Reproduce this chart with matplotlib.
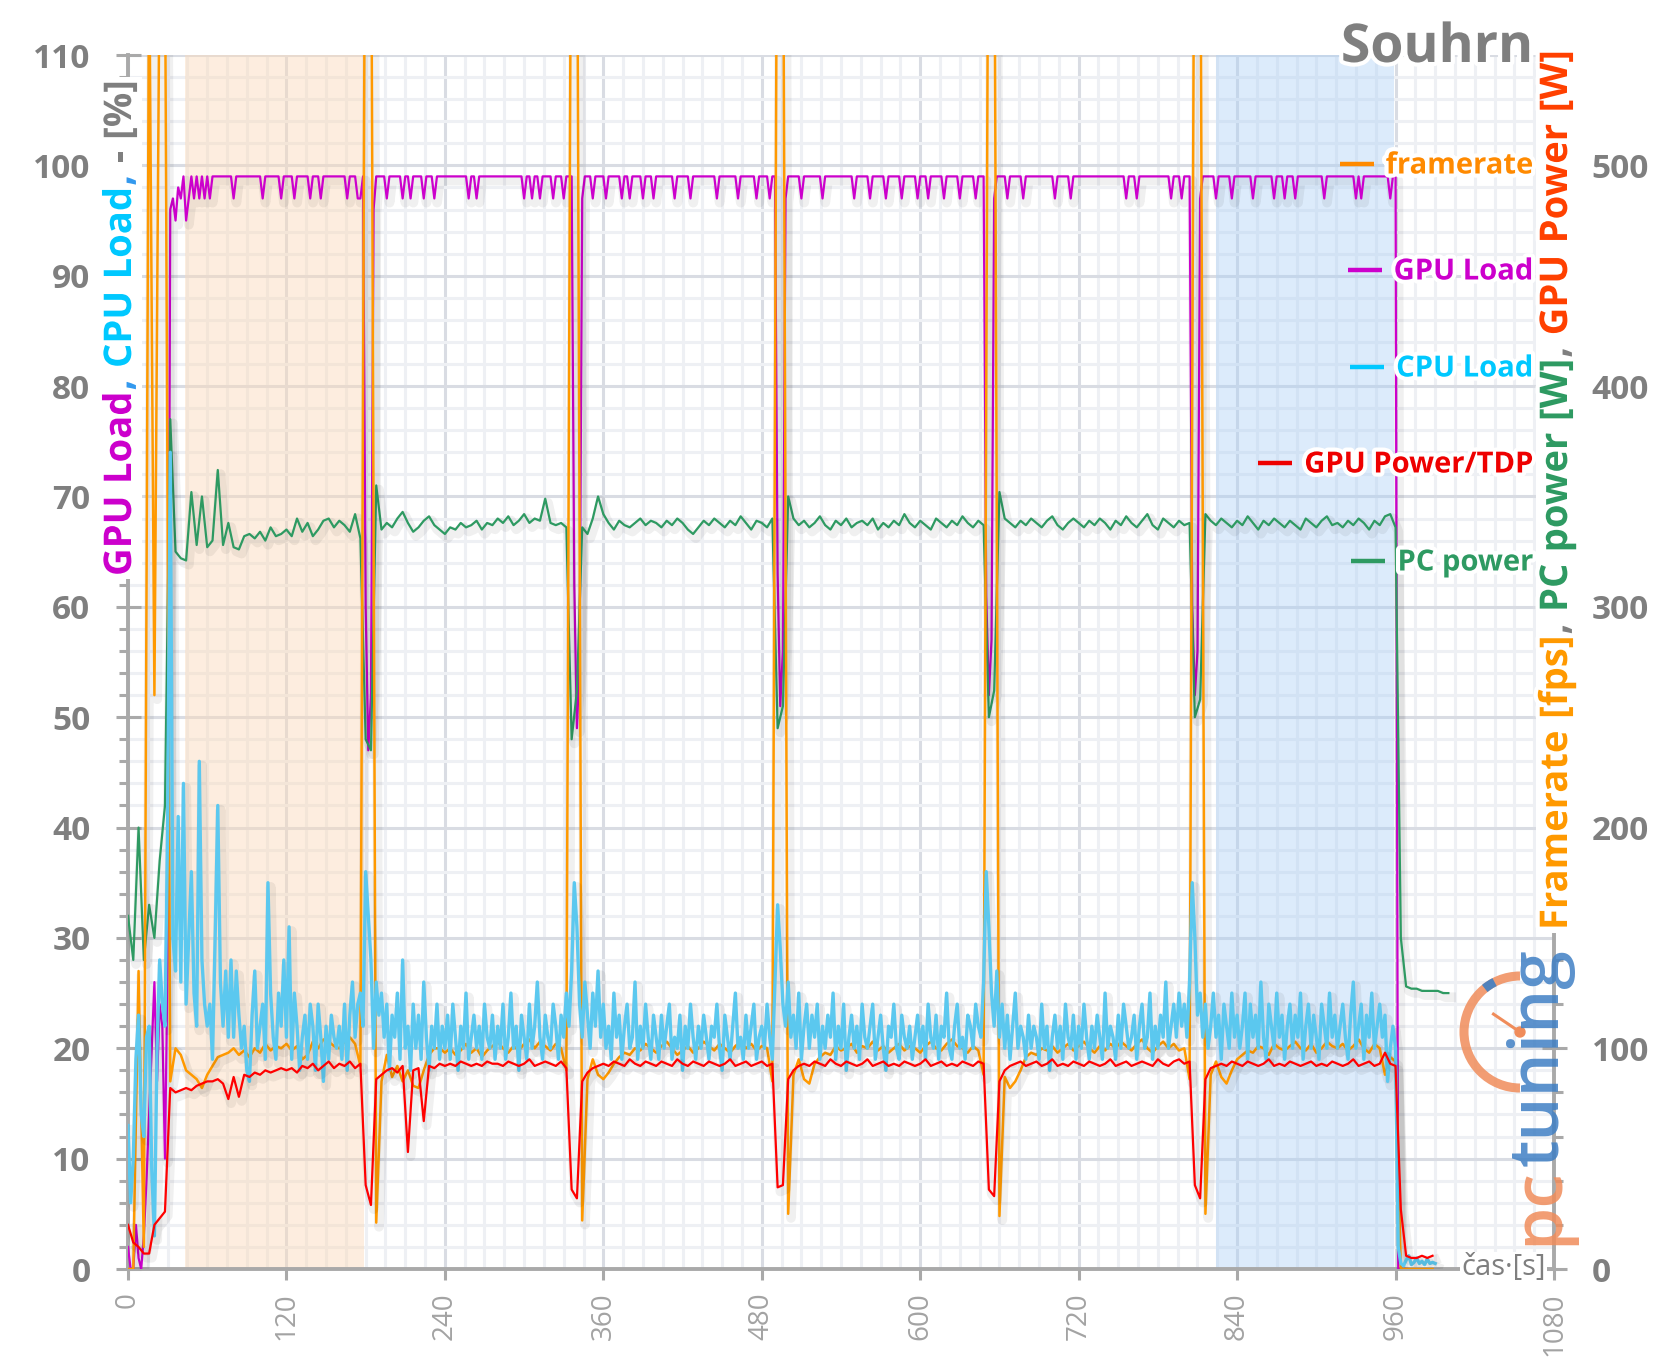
import numpy as np
import matplotlib
matplotlib.use("Agg")
import matplotlib.pyplot as plt
import matplotlib.patheffects as pe
from matplotlib.lines import Line2D
from matplotlib.patches import Arc, Circle, Rectangle
from matplotlib.ticker import MultipleLocator
from matplotlib.transforms import IdentityTransform, Bbox

nan = np.nan

fast_step = 2
slow_step = 4

gpu_load = [  # %, one row = 40 s
    2, 0, 0, 4, 1, 0, 3, 8, 14, 20, 26, 17, 24, 22, 10, 28, 96, 97, 95, 98,
    97, 99, 95, 97, 99, 97, 99, 97, 99, 97, 99, 97, 99, 99, 99, 99, 99, 99, 99, 99,
    97, 99, 99, 99, 99, 99, 99, 99, 99, 99, 99, 97, 99, 99, 99, 99, 99, 99, 97, 99,
    99, 99, 99, 97, 99, 99, 99, 99, 99, 97, 99, 99, 99, 97, 99, 99, 99, 99, 99, 99,
    99, 99, 99, 97, 99, 99, 99, 97, 97, 99, 60, 47, 52, 96, 99, 99, 99, 99, 97, 99,
    99, 99, 99, 99, 97, 99, 99, 97, 99, 99, 99, 99, 97, 99, 99, 99, 97, 99, 99, 99,
    99, 99, 99, 99, 99, 99, 99, 99, 99, 97, 99, 99, 97, 99, 99, 99, 99, 99, 99, 99,
    99, 99, 99, 99, 99, 99, 99, 99, 99, 99, 97, 99, 99, 97, 99, 99, 97, 99, 99, 99,
    99, 97, 99, 99, 99, 97, 99, 99, 99, 62, 49, 55, 97, 99, 99, 99, 97, 99, 99, 99,
    99, 97, 99, 99, 99, 99, 99, 97, 99, 99, 97, 99, 99, 99, 99, 97, 99, 99, 99, 97,
    99, 99, 99, 99, 99, 99, 99, 97, 99, 99, 99, 99, 99, 97, 99, 99, 99, 99, 99, 99,
    99, 99, 99, 97, 99, 99, 99, 99, 99, 99, 99, 97, 99, 99, 99, 99, 99, 99, 97, 99,
    99, 99, 99, 97, 99, 99, 63, 51, 56, 97, 99, 99, 99, 99, 99, 97, 99, 99, 99, 99,
    99, 99, 99, 97, 99, 99, 99, 99, 99, 99, 99, 99, 99, 99, 99, 97, 99, 99, 99, 99,
    99, 97, 99, 99, 99, 99, 99, 97, 99, 99, 99, 99, 99, 97, 99, 99, 99, 99, 99, 97,
    99, 99, 99, 97, 99, 99, 99, 99, 99, 97, 99, 99, 99, 99, 99, 97, 99, 99, 99, 99,
    99, 97, 99, 99, 99, 61, 52, 57, 97, 99, 99, 99, 99, 97, 99, 99, 99, 99, 99, 97,
    99, 99, 99, 99, 99, 99, 99, 99, 99, 99, 99, 97, 99, 99, 99, 99, 99, 97, 99, 99,
    99, 99, 99, 99, 99, 99, 99, 99, 99, 99, 99, 99, 99, 99, 99, 99, 99, 99, 97, 99,
    99, 99, 97, 99, 99, 99, 99, 99, 99, 99, 99, 99, 99, 99, 99, 97, 99, 99, 99, 97,
    99, 99, 99, 60, 52, 56, 97, 99, 99, 99, 99, 99, 97, 99, 99, 99, 99, 99, 97, 99,
    99, 99, 99, 99, 99, 99, 97, 99, 99, 99, 99, 99, 99, 99, 97, 99, 99, 99, 97, 99,
    99, 99, 97, 99, 99, 99, 99, 99, 99, 99, 99, 99, 99, 97, 99, 99, 99, 99, 99, 99,
    99, 99, 99, 99, 99, 97, 99, 97, 99, 99, 99, 99, 99, 99, 99, 99, 99, 99, 97, 99,
    99, 0, 0, 0, 0, nan, nan, nan, nan, nan, nan, nan, nan, nan, nan, nan, nan, nan, nan, nan,
    nan,
]

cpu_load = [  # %, one row = 40 s
    13, 6, 10, 19, 23, 14, 12, 21, 22, 9, 3, 20, 28, 24, 22, 40, 74, 30, 27, 41,
    26, 44, 24, 30, 36, 25, 22, 46, 28, 24, 22, 24, 19, 30, 42, 26, 22, 27, 21, 28,
    21, 27, 23, 20, 22, 18, 17, 23, 27, 20, 22, 24, 19, 35, 25, 21, 19, 25, 22, 28,
    21, 31, 19, 25, 22, 18, 21, 23, 19, 24, 22, 18, 24, 21, 17, 22, 19, 23, 21, 20,
    22, 19, 24, 18, 23, 26, 21, 24, 25, 22, 36, 32, 28, 20, 26, 23, 25, 21, 24, 18,
    23, 21, 25, 19, 28, 20, 22, 18, 24, 20, 23, 19, 26, 21, 18, 22, 20, 24, 19, 22,
    20, 23, 19, 24, 21, 18, 22, 20, 25, 19, 21, 23, 20, 22, 19, 24, 21, 20, 23, 19,
    22, 20, 24, 19, 21, 25, 20, 22, 18, 23, 21, 19, 24, 20, 22, 26, 21, 19, 23, 21,
    20, 24, 22, 19, 23, 21, 25, 22, 27, 35, 31, 24, 21, 26, 23, 20, 25, 22, 27, 21,
    24, 20, 22, 19, 25, 21, 23, 19, 22, 24, 20, 21, 26, 19, 22, 20, 24, 21, 19, 23,
    21, 19, 23, 20, 22, 24, 19, 21, 20, 23, 18, 22, 20, 24, 21, 19, 22, 20, 23, 21,
    19, 22, 21, 24, 20, 18, 23, 21, 19, 22, 25, 20, 21, 19, 23, 20, 22, 24, 19, 21,
    22, 20, 24, 21, 19, 26, 33, 29, 24, 22, 26, 21, 23, 20, 25, 19, 22, 24, 20, 23,
    21, 24, 19, 22, 20, 23, 21, 25, 19, 22, 20, 24, 18, 21, 23, 20, 22, 19, 24, 21,
    20, 22, 24, 19, 21, 23, 20, 18, 22, 21, 24, 20, 19, 23, 21, 20, 22, 19, 21, 23,
    20, 22, 19, 24, 21, 20, 23, 19, 22, 21, 25, 20, 19, 22, 24, 20, 21, 19, 23, 22,
    20, 24, 22, 21, 26, 36, 31, 25, 22, 27, 21, 24, 20, 23, 19, 22, 25, 20, 22, 21,
    19, 23, 20, 22, 21, 19, 24, 20, 22, 18, 21, 23, 20, 22, 19, 24, 21, 20, 23, 19,
    22, 20, 24, 21, 19, 22, 20, 23, 21, 19, 25, 20, 22, 21, 19, 23, 20, 24, 22, 20,
    21, 23, 19, 22, 24, 20, 21, 25, 19, 22, 20, 23, 21, 26, 20, 22, 24, 21, 25, 22,
    24, 21, 26, 35, 30, 23, 25, 21, 24, 20, 22, 25, 21, 23, 19, 24, 22, 20, 25, 21,
    23, 20, 22, 25, 19, 24, 21, 23, 20, 26, 21, 19, 24, 22, 20, 25, 21, 23, 19, 22,
    24, 20, 23, 21, 25, 19, 22, 24, 20, 23, 21, 19, 24, 22, 20, 25, 21, 23, 20, 22,
    24, 21, 19, 23, 26, 20, 22, 24, 19, 23, 21, 25, 20, 22, 24, 21, 23, 17, 20, 22,
    20, 2, 0.5, 0.3, 0.8, 1.2, 0.4, 0.6, 1.0, 0.5, 0.7, 0.4, 0.9, 0.5, 0.6, 0.5, nan, nan, nan, nan,
    nan,
]

framerate = [  # fps, one row = 40 s
    0, 0, 135, 10, 600, 260, 600, 600, 85, 100,
    97, 90, 88, 86, 82, 88, 92, 96, 97, 98,
    100, 97, 99, 96, 100, 98, 102, 99, 101, 100,
    102, 99, 101, 95, 97, 103, 100, 104, 103, 101,
    100, 103, 105, 102, 92, 700, 650, 21, 85, 97,
    87, 92, 85, 90, 83, 82, 90, 97, 100, 100,
    98, 100, 97, 99, 102, 98, 100, 96, 99, 101,
    103, 100, 98, 101, 99, 102, 104, 100, 103, 101,
    99, 102, 100, 90, 700, 650, 22, 86, 95, 88,
    86, 89, 93, 96, 98, 97, 100, 99, 102, 100,
    98, 101, 103, 100, 97, 99, 101, 98, 100, 103,
    101, 99, 102, 100, 98, 101, 103, 100, 102, 99,
    101, 100, 85, 700, 650, 25, 88, 95, 86, 84,
    93, 96, 98, 97, 101, 99, 100, 102, 98, 101,
    100, 103, 99, 101, 98, 100, 102, 99, 101, 100,
    98, 101, 103, 100, 99, 102, 104, 101, 100, 98,
    101, 99, 88, 700, 650, 24, 87, 82, 85, 90,
    96, 98, 97, 100, 99, 101, 98, 100, 102, 99,
    101, 103, 100, 98, 101, 99, 102, 100, 103, 101,
    99, 102, 104, 100, 98, 101, 103, 100, 102, 99,
    100, 86, 700, 650, 25, 88, 94, 87, 84, 90,
    95, 97, 99, 98, 101, 100, 97, 102, 100, 99,
    101, 103, 100, 99, 102, 98, 100, 103, 101, 100,
    102, 99, 101, 104, 100, 98, 102, 100, 88, 96,
    94, 0, 0, 0, 0, 0, 0, 0, nan, nan,
    nan,
]

gpu_power = [  # W, one row = 40 s
    20, 12, 10, 7, 7, 20, 23, 26, 82, 80,
    81, 82, 81, 83, 84, 85, 85, 86, 84, 77,
    87, 78, 88, 87, 89, 88, 90, 89, 90, 91,
    90, 91, 89, 92, 91, 93, 90, 92, 94, 91,
    93, 92, 94, 91, 93, 38, 29, 86, 88, 90,
    91, 89, 92, 53, 90, 91, 67, 92, 91, 93,
    92, 93, 92, 94, 93, 92, 93, 92, 94, 93,
    93, 92, 94, 93, 92, 93, 95, 92, 93, 94,
    93, 92, 94, 91, 36, 32, 85, 89, 91, 92,
    93, 92, 94, 93, 92, 95, 93, 92, 94, 93,
    92, 94, 93, 92, 95, 93, 92, 94, 93, 92,
    94, 93, 92, 93, 95, 92, 93, 94, 92, 93,
    94, 92, 93, 37, 38, 86, 90, 92, 93, 92,
    94, 93, 92, 95, 93, 92, 94, 93, 92, 93,
    95, 92, 93, 94, 92, 93, 92, 94, 93, 92,
    93, 95, 92, 93, 94, 92, 93, 92, 94, 93,
    92, 94, 93, 36, 33, 85, 90, 92, 93, 94,
    92, 93, 94, 92, 93, 95, 92, 93, 92, 94,
    93, 92, 94, 93, 92, 93, 95, 92, 93, 94,
    92, 93, 94, 93, 92, 95, 93, 92, 94, 95,
    93, 94, 38, 32, 86, 91, 92, 93, 92, 94,
    93, 92, 94, 93, 92, 93, 95, 92, 93, 92,
    94, 93, 92, 93, 94, 92, 93, 92, 94, 93,
    92, 93, 95, 92, 93, 94, 92, 93, 98, 93,
    92, 27, 6, 5, 5, 6, 5, 6, nan, nan,
    nan,
]

pc_power = [  # W, one row = 40 s
    160, 140, 200, 140, 165, 150, 185, 210, 385, 325,
    322, 321, 352, 328, 350, 327, 330, 362, 328, 338,
    327, 326, 332, 333, 331, 334, 330, 336, 332, 333,
    335, 332, 340, 334, 338, 332, 335, 339, 340, 336,
    339, 337, 334, 342, 331, 240, 235, 355, 335, 338,
    336, 340, 343, 338, 334, 336, 339, 341, 337, 335,
    333, 336, 335, 338, 336, 337, 339, 335, 338, 337,
    340, 338, 341, 337, 339, 342, 338, 340, 339, 349,
    338, 337, 338, 336, 240, 262, 336, 333, 340, 350,
    342, 338, 335, 339, 337, 336, 338, 340, 337, 339,
    338, 336, 339, 337, 340, 338, 335, 333, 336, 339,
    337, 340, 338, 336, 339, 337, 341, 338, 335, 339,
    338, 336, 340, 245, 255, 350, 340, 337, 339, 336,
    338, 341, 337, 335, 339, 337, 340, 336, 338, 339,
    337, 340, 335, 338, 336, 339, 337, 342, 338, 336,
    339, 337, 335, 340, 338, 336, 339, 337, 341, 338,
    336, 339, 337, 250, 262, 352, 340, 338, 336, 339,
    337, 340, 338, 336, 339, 341, 337, 335, 338, 340,
    338, 336, 339, 337, 340, 338, 335, 339, 337, 341,
    338, 336, 339, 342, 337, 335, 340, 338, 336, 339,
    337, 338, 250, 258, 342, 339, 337, 340, 338, 336,
    339, 337, 341, 338, 335, 339, 337, 340, 338, 336,
    339, 337, 335, 340, 338, 336, 339, 341, 337, 338,
    336, 339, 337, 340, 338, 335, 339, 337, 341, 342,
    336, 150, 128, 127, 127, 126, 126, 126, 126, 125,
    125,
]

for s in (gpu_load, cpu_load):
    assert len(s) == 501, len(s)
for s in (framerate, gpu_power, pc_power):
    assert len(s) == 251, len(s)

t_fast = np.arange(len(gpu_load)) * fast_step
t_slow = np.arange(len(pc_power)) * slow_step

spans = [(43, 179, "#FBD9B8", 0.45), (824, 959, "#A9CDF5", 0.40)]

x_ticks = [0, 120, 240, 360, 480, 600, 720, 840, 960, 1080]
left_ticks = [0, 10, 20, 30, 40, 50, 60, 70, 80, 90, 100, 110]
right_ticks = [0, 100, 200, 300, 400, 500]

legend_names = ["framerate", "GPU Load", "CPU Load", "GPU Power/TDP", "PC power"]
legend_colors = ["#FF8A00", "#CC00CC", "#00C8FF", "#EE0000", "#2E9A62"]
legend_y = [166, 272, 369, 465, 563]

plt.rcParams["font.family"] = ["Open Sans", "DejaVu Sans"]

W, H = 1658, 1361
fig = plt.figure(figsize=(W / 100, H / 100), dpi=100)
gray = "#7F7F7F"
axis_gray = "#A9A9A9"
glow = [pe.withStroke(linewidth=6, foreground="white")]

ax = fig.add_axes([128 / W, 1 - 1269 / H, (1554 - 128) / W, (1269 - 55) / H])
ax2 = ax.twinx()
ax.set_xlim(0, 1080)
ax.set_ylim(0, 110)
ax2.set_ylim(0, 550)

# grid
ax.set_axisbelow(True)
ax.xaxis.set_minor_locator(MultipleLocator(15))
ax.yaxis.set_minor_locator(MultipleLocator(2))
ax.grid(which="major", color="#D9DCE3", lw=2.2)
ax.grid(which="minor", color="#EEF0F4", lw=2.2)

for x0, x1, c, a in spans:
    ax.axvspan(x0, x1, color=c, alpha=a, lw=0, zorder=1)

shadow = [pe.SimpleLineShadow(offset=(2, -3), shadow_color="black", alpha=0.06, linewidth=7), pe.Normal()]

ax.plot(t_fast, gpu_load, color="#CC00CC", lw=1.6, zorder=3, path_effects=shadow)
ax.plot(t_slow, pc_power, color="#2E9A62", lw=1.6, zorder=4, path_effects=shadow,
        transform=ax2.transData)
ax.plot(t_slow, framerate, color="#FF9900", lw=1.8, zorder=5, path_effects=shadow,
        transform=ax2.transData)
ax.plot(t_fast, cpu_load, color="#5BC8EF", lw=2.4, zorder=6, path_effects=shadow)
ax.plot(t_slow, gpu_power, color="#FF0000", lw=1.6, zorder=7, path_effects=shadow,
        transform=ax2.transData)
ax.set_xlim(0, 1080)
ax.set_ylim(0, 110)

# axes, ticks
for a in (ax, ax2):
    a.spines["top"].set_visible(False)
ax.spines["right"].set_visible(False)
ax2.spines["left"].set_visible(False)
ax2.spines["bottom"].set_visible(False)
for sp in (ax.spines["left"], ax.spines["bottom"], ax2.spines["right"]):
    sp.set_color(axis_gray)
    sp.set_linewidth(2.8)

ax.set_xticks(x_ticks)
ax.set_xticklabels([str(v) for v in x_ticks], rotation=90, fontsize=20, color="#A3A3A3")
ax.tick_params(axis="x", which="major", direction="out", length=8, width=2.2,
               color=axis_gray, pad=9)
ax.tick_params(axis="x", which="minor", length=0)

ax.set_yticks(left_ticks)
ax.set_yticklabels([str(v) for v in left_ticks], fontsize=24, fontweight="bold", color=gray)
ax.tick_params(axis="y", which="major", direction="inout", length=18, width=2.2,
               color=axis_gray, pad=18)
ax.tick_params(axis="y", which="minor", direction="out", length=6.5, width=2.2, color=axis_gray)

ax2.set_yticks(right_ticks)
ax2.set_yticklabels([str(v) for v in right_ticks], fontsize=24, fontweight="bold", color=gray)
ax2.yaxis.set_minor_locator(MultipleLocator(20))
ax2.tick_params(axis="y", which="major", direction="inout", length=18, width=2.2,
                color=axis_gray, pad=18)
ax2.tick_params(axis="y", which="minor", direction="out", length=6.5, width=2.2, color=axis_gray)

renderer = fig.canvas.get_renderer()


def stack_text(x_px, y_px, parts, size, backdrop=False, **kw):
    # vertical text built from coloured pieces, bottom to top; None = word gap
    cur = H - y_px
    space = 0.27 * size * 100 / 72
    boxes = []
    for s, c in parts:
        if s is None:
            cur += space
            continue
        tx = fig.text(x_px / W, cur / H, s, rotation=90, ha="center", va="bottom",
                      fontsize=size, color=c, **kw)
        bb = tx.get_window_extent(renderer)
        boxes.append(bb)
        cur = bb.y1 + 1
    if backdrop:
        u = Bbox.union(boxes)
        fig.add_artist(Rectangle((u.x0 - 2, u.y0 - 3), u.width + 4, u.height + 6,
                                 transform=IdentityTransform(), facecolor="white",
                                 edgecolor="none", zorder=5.5))


m, b, cy_, g = "#CC00CC", "#3399EE", "#00C8FF", gray
stack_text(121, 576, [("GPU", m), (None, 0), ("Load", m), (",", b), (None, 0),
                      ("CPU", cy_), (None, 0), ("Load", cy_), (",", b), (None, 0),
                      ("-", g), (None, 0), ("[%]", g)],
           27.5, backdrop=True, fontweight="bold", path_effects=glow, zorder=6)
o, gr, rd = "#FF9900", "#2E9A62", "#FF4000"
stack_text(1557, 930, [("Framerate", o), (None, 0), ("[fps]", o), (",", g), (None, 0),
                       ("PC", gr), (None, 0), ("power", gr), (None, 0), ("[W]", gr), (",", g),
                       (None, 0), ("GPU", rd), (None, 0), ("Power", rd), (None, 0), ("[W]", rd)],
           27.5, backdrop=True, fontweight="bold", path_effects=glow, zorder=6)

fig.text(1533 / W, 1 - 48 / H, "Souhrn", ha="right", va="center", fontsize=38.5,
         fontweight="bold", color=gray, path_effects=glow, zorder=6)
fig.text(1546 / W, 1 - 1268 / H, "čas·[s]", ha="right", va="center", fontsize=21,
         color=gray, zorder=6,
         bbox=dict(facecolor="white", edgecolor="none", pad=1))

# legend
for name, c, ypx in zip(legend_names, legend_colors, legend_y):
    tx = fig.text(1533 / W, 1 - ypx / H, name, ha="right", va="center", fontsize=21,
                  fontweight="bold", color=c, path_effects=glow, zorder=7)
    bb = tx.get_window_extent(renderer)
    ym = H - ypx + 2
    fig.add_artist(Line2D([bb.x0 - 46, bb.x0 - 12], [ym, ym], transform=IdentityTransform(),
                          color=c, lw=3.2, solid_capstyle="butt", zorder=7))

# pctuning logo
stack_text(1540, 1245, [("pc", "#F08C5A"), ("tuning", "#3F7FC4")], 50,
           fontweight="semibold", alpha=0.85, zorder=5)
cx, cy = 15.20, (H - 1032) / 100
fig.add_artist(Arc((cx, cy), 1.12, 1.12, theta1=90, theta2=270, lw=6.5, color="#F08C5A",
                   alpha=0.85, transform=fig.dpi_scale_trans, zorder=5))
fig.add_artist(Arc((cx, cy), 1.12, 1.12, theta1=117, theta2=129, lw=6.5, color="#3F7FC4",
                   alpha=0.9, transform=fig.dpi_scale_trans, zorder=5))
ang = np.deg2rad(146)
fig.add_artist(Line2D([cx, cx + 0.32 * np.cos(ang)], [cy, cy + 0.32 * np.sin(ang)],
                      transform=fig.dpi_scale_trans, color="#F08C5A", lw=2.2, zorder=5))
fig.add_artist(Circle((cx, cy), 0.05, color="#F08C5A", transform=fig.dpi_scale_trans, zorder=5))

fig.savefig("out.png", dpi=100, facecolor="white")
